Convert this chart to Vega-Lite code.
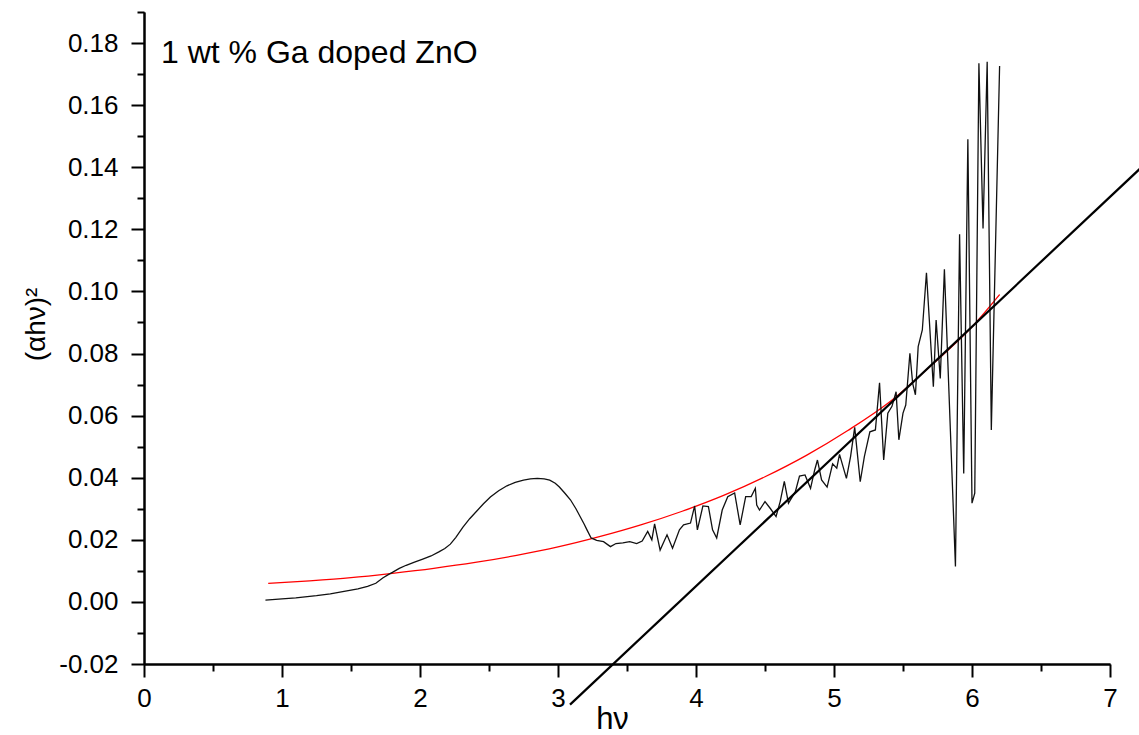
{
  "$schema": "https://vega.github.io/schema/vega-lite/v6.json",
  "width": 966,
  "height": 652,
  "autosize": {"type": "none"},
  "padding": {"left": 144, "top": 12, "right": 29, "bottom": 71},
  "background": "white",
  "config": {
    "view": {"stroke": null},
    "font": "Liberation Sans",
    "axis": {
      "grid": false,
      "tickWidth": 2, "tickColor": "black",
      "domainWidth": 2, "domainColor": "black",
      "labelFont": "Liberation Sans", "labelFontSize": 26, "labelColor": "black",
      "labelFlush": false, "labelOverlap": false,
      "titleFont": "Liberation Sans", "titleFontWeight": "normal", "titleColor": "black"
    }
  },
  "datasets": {
    "meas": [
      {"x": 0.88, "y": 0.0006}, {"x": 1.0, "y": 0.001}, {"x": 1.1, "y": 0.0013}, {"x": 1.25, "y": 0.002},
      {"x": 1.35, "y": 0.0026}, {"x": 1.45, "y": 0.0034}, {"x": 1.55, "y": 0.0042}, {"x": 1.62, "y": 0.005},
      {"x": 1.68, "y": 0.006}, {"x": 1.73, "y": 0.0077}, {"x": 1.77, "y": 0.0088}, {"x": 1.8, "y": 0.0095},
      {"x": 1.85, "y": 0.0108}, {"x": 1.9, "y": 0.0118}, {"x": 1.96, "y": 0.0128}, {"x": 2.02, "y": 0.0138},
      {"x": 2.08, "y": 0.0148}, {"x": 2.14, "y": 0.0162}, {"x": 2.18, "y": 0.0172}, {"x": 2.22, "y": 0.0186},
      {"x": 2.26, "y": 0.0208}, {"x": 2.31, "y": 0.024}, {"x": 2.36, "y": 0.0268}, {"x": 2.41, "y": 0.0292},
      {"x": 2.46, "y": 0.0316}, {"x": 2.51, "y": 0.0338}, {"x": 2.57, "y": 0.0358}, {"x": 2.63, "y": 0.0374},
      {"x": 2.69, "y": 0.0385}, {"x": 2.75, "y": 0.0392}, {"x": 2.8, "y": 0.0396}, {"x": 2.85, "y": 0.0398},
      {"x": 2.9, "y": 0.0396}, {"x": 2.94, "y": 0.0392}, {"x": 2.98, "y": 0.0382}, {"x": 3.01, "y": 0.037},
      {"x": 3.05, "y": 0.035}, {"x": 3.09, "y": 0.0329}, {"x": 3.13, "y": 0.03}, {"x": 3.16, "y": 0.0275},
      {"x": 3.19, "y": 0.025}, {"x": 3.21, "y": 0.0232}, {"x": 3.24, "y": 0.0206}, {"x": 3.28, "y": 0.0198},
      {"x": 3.33, "y": 0.0194}, {"x": 3.38, "y": 0.0178}, {"x": 3.42, "y": 0.0188}, {"x": 3.47, "y": 0.019},
      {"x": 3.52, "y": 0.0194}, {"x": 3.57, "y": 0.0188}, {"x": 3.61, "y": 0.0196}, {"x": 3.65, "y": 0.0227},
      {"x": 3.68, "y": 0.02}, {"x": 3.7, "y": 0.0251}, {"x": 3.74, "y": 0.0167}, {"x": 3.79, "y": 0.0216},
      {"x": 3.83, "y": 0.0173}, {"x": 3.88, "y": 0.0232}, {"x": 3.91, "y": 0.0248}, {"x": 3.96, "y": 0.0254},
      {"x": 3.99, "y": 0.0309}, {"x": 4.01, "y": 0.0232}, {"x": 4.05, "y": 0.0309}, {"x": 4.09, "y": 0.0307},
      {"x": 4.12, "y": 0.0232}, {"x": 4.15, "y": 0.0206}, {"x": 4.19, "y": 0.0296}, {"x": 4.23, "y": 0.0339},
      {"x": 4.28, "y": 0.0351}, {"x": 4.32, "y": 0.0248}, {"x": 4.36, "y": 0.0339}, {"x": 4.4, "y": 0.0339},
      {"x": 4.43, "y": 0.0366}, {"x": 4.44, "y": 0.0312}, {"x": 4.46, "y": 0.0296}, {"x": 4.5, "y": 0.0323},
      {"x": 4.54, "y": 0.03}, {"x": 4.58, "y": 0.0275}, {"x": 4.61, "y": 0.0323}, {"x": 4.64, "y": 0.0388},
      {"x": 4.67, "y": 0.0318}, {"x": 4.72, "y": 0.0355}, {"x": 4.75, "y": 0.0405}, {"x": 4.79, "y": 0.0409},
      {"x": 4.83, "y": 0.0366}, {"x": 4.86, "y": 0.0425}, {"x": 4.88, "y": 0.0457}, {"x": 4.91, "y": 0.0393},
      {"x": 4.95, "y": 0.037}, {"x": 4.99, "y": 0.0445}, {"x": 5.02, "y": 0.0431}, {"x": 5.04, "y": 0.0475},
      {"x": 5.09, "y": 0.0398}, {"x": 5.12, "y": 0.0468}, {"x": 5.15, "y": 0.0562}, {"x": 5.19, "y": 0.0387},
      {"x": 5.22, "y": 0.0468}, {"x": 5.26, "y": 0.0548}, {"x": 5.3, "y": 0.0554}, {"x": 5.33, "y": 0.0706},
      {"x": 5.36, "y": 0.0457}, {"x": 5.39, "y": 0.0608}, {"x": 5.42, "y": 0.063}, {"x": 5.45, "y": 0.0677},
      {"x": 5.47, "y": 0.0522}, {"x": 5.5, "y": 0.0608}, {"x": 5.52, "y": 0.0634}, {"x": 5.55, "y": 0.0801},
      {"x": 5.57, "y": 0.0704}, {"x": 5.59, "y": 0.0667}, {"x": 5.61, "y": 0.0822}, {"x": 5.64, "y": 0.0876},
      {"x": 5.67, "y": 0.106}, {"x": 5.72, "y": 0.0693}, {"x": 5.74, "y": 0.0908}, {"x": 5.77, "y": 0.072},
      {"x": 5.8, "y": 0.1071}, {"x": 5.88, "y": 0.0114}, {"x": 5.91, "y": 0.1184}, {"x": 5.94, "y": 0.0414},
      {"x": 5.97, "y": 0.149}, {"x": 6.0, "y": 0.0318}, {"x": 6.02, "y": 0.035}, {"x": 6.05, "y": 0.1735},
      {"x": 6.08, "y": 0.1203}, {"x": 6.11, "y": 0.174}, {"x": 6.14, "y": 0.0554}, {"x": 6.2, "y": 0.1726}
    ],
    "fit": [
      {"x": 0.9, "y": 0.006}, {"x": 1.2, "y": 0.0068}, {"x": 1.5, "y": 0.0078}, {"x": 1.8, "y": 0.0092},
      {"x": 2.1, "y": 0.0108}, {"x": 2.4, "y": 0.0127}, {"x": 2.7, "y": 0.015}, {"x": 3.0, "y": 0.0177},
      {"x": 3.3, "y": 0.021}, {"x": 3.6, "y": 0.0248}, {"x": 3.9, "y": 0.0292}, {"x": 4.2, "y": 0.0343},
      {"x": 4.5, "y": 0.0403}, {"x": 4.8, "y": 0.0472}, {"x": 5.1, "y": 0.0552}, {"x": 5.4, "y": 0.0643},
      {"x": 5.7, "y": 0.076}, {"x": 6.0, "y": 0.0886}, {"x": 6.2, "y": 0.099}
    ],
    "tangent": [
      {"x": 3.087, "y": -0.0331}, {"x": 7.25, "y": 0.1409}
    ],
    "note": [
      {"label": "1 wt % Ga doped ZnO"}
    ]
  },
  "resolve": {"axis": {"x": "independent", "y": "independent"}},
  "layer": [
    {
      "data": {"name": "fit"},
      "mark": {"type": "line", "color": "#ff0000", "strokeWidth": 1.3, "interpolate": "monotone", "clip": false},
      "encoding": {
        "x": {
          "field": "x", "type": "quantitative",
          "scale": {"domain": [0, 7], "nice": false, "zero": false},
          "axis": {
            "orient": "bottom", "title": null, "labels": false,
            "values": [0.5, 1.5, 2.5, 3.5, 4.5, 5.5, 6.5],
            "tickSize": 7
          }
        },
        "y": {
          "field": "y", "type": "quantitative",
          "scale": {"domain": [-0.02, 0.19], "nice": false, "zero": false},
          "axis": {
            "orient": "left", "title": null, "labels": false,
            "values": [-0.01, 0.01, 0.03, 0.05, 0.07, 0.09, 0.11, 0.13, 0.15, 0.17, 0.19],
            "tickSize": 7
          }
        }
      }
    },
    {
      "data": {"name": "meas"},
      "mark": {"type": "line", "color": "#111111", "strokeWidth": 1.3, "clip": false},
      "encoding": {
        "x": {
          "field": "x", "type": "quantitative",
          "scale": {"domain": [0, 7], "nice": false, "zero": false},
          "axis": {
            "orient": "bottom",
            "title": "hν",
            "values": [0, 1, 2, 3, 4, 5, 6, 7],
            "format": "d",
            "tickSize": 13,
            "labelPadding": 8,
            "titleFontSize": 31,
            "titleX": 468, "titleY": 64, "titleBaseline": "alphabetic", "titleAlign": "center"
          }
        },
        "y": {
          "field": "y", "type": "quantitative",
          "scale": {"domain": [-0.02, 0.19], "nice": false, "zero": false},
          "axis": {
            "orient": "left",
            "title": "(αhν)²",
            "values": [-0.02, 0, 0.02, 0.04, 0.06, 0.08, 0.1, 0.12, 0.14, 0.16, 0.18],
            "format": ".2f",
            "labelExpr": "replace(datum.label, '−', '-')",
            "tickSize": 13,
            "labelPadding": 13,
            "titleFontSize": 28,
            "titleX": -100, "titleY": 312, "titleAngle": -90, "titleBaseline": "alphabetic", "titleAlign": "center"
          }
        }
      }
    },
    {
      "data": {"name": "tangent"},
      "mark": {"type": "line", "color": "black", "strokeWidth": 2.2, "clip": false},
      "encoding": {
        "x": {"field": "x", "type": "quantitative", "scale": {"domain": [0, 7], "nice": false, "zero": false}, "axis": null},
        "y": {"field": "y", "type": "quantitative", "scale": {"domain": [-0.02, 0.19], "nice": false, "zero": false}, "axis": null}
      }
    },
    {
      "data": {"name": "note"},
      "mark": {"type": "text", "align": "left", "baseline": "alphabetic", "font": "Liberation Sans", "fontSize": 32, "color": "black"},
      "encoding": {
        "x": {"datum": 0.123, "type": "quantitative", "scale": {"domain": [0, 7], "nice": false, "zero": false}, "axis": null},
        "y": {"datum": 0.1736, "type": "quantitative", "scale": {"domain": [-0.02, 0.19], "nice": false, "zero": false}, "axis": null},
        "text": {"field": "label"}
      }
    }
  ]
}
